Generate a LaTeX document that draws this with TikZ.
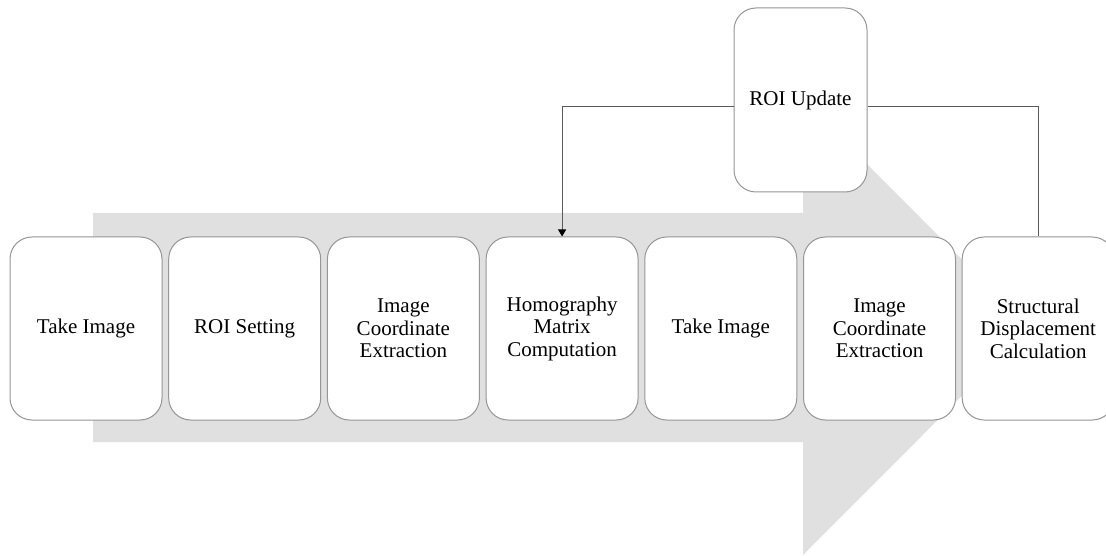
\documentclass[tikz,border=0pt]{standalone}
\usepackage{fontspec}
\setmainfont{Liberation Serif}
\usetikzlibrary{arrows.meta}
\definecolor{arrowgrey}{RGB}{224,224,224}
\definecolor{boxline}{RGB}{150,150,150}
\definecolor{connline}{RGB}{90,90,90}
\tikzset{
  stepbox/.style={draw=boxline, line width=1pt, fill=white, rounded corners=22pt,
    minimum width=152pt, minimum height=183pt, align=center, inner sep=2pt,
    font=\fontsize{21pt}{22.5pt}\selectfont},
  conn/.style={draw=connline, line width=0.9pt},
}
\begin{document}
\begin{tikzpicture}[x=1pt,y=-1pt]
\useasboundingbox (0,0) rectangle (1106,556);
% big background arrow
\fill[arrowgrey] (93,213) -- (803,213) -- (803,100) -- (1030,327.5) -- (803,555) -- (803,442) -- (93,442) -- cycle;
% step boxes
\node[stepbox] (b1) at (86,328.5) {Take Image};
\node[stepbox] (b2) at (244.7,328.5) {ROI Setting};
\node[stepbox] (b3) at (403.4,328.5) {Image\\Coordinate\\Extraction};
\node[stepbox] (b4) at (562.1,328.5) {Homography\\Matrix\\Computation};
\node[stepbox] (b5) at (720.8,328.5) {Take Image};
\node[stepbox] (b6) at (879.5,328.5) {Image\\Coordinate\\Extraction};
\node[stepbox] (b7) at (1038.2,328.5) {Structural\\Displacement\\Calculation};
\node[stepbox, minimum width=133pt, minimum height=184pt] (ru) at (800.5,100) {ROI Update};
% connectors
\coordinate (ruL) at ([yshift=-6pt]ru.west);
\coordinate (ruR) at ([yshift=-6pt]ru.east);
\draw[conn, -{Triangle[length=7pt,width=8pt,color=black]}] (ruL) -| (b4.north);
\draw[conn] (ruR) -| (b7.north);
\end{tikzpicture}
\end{document}
